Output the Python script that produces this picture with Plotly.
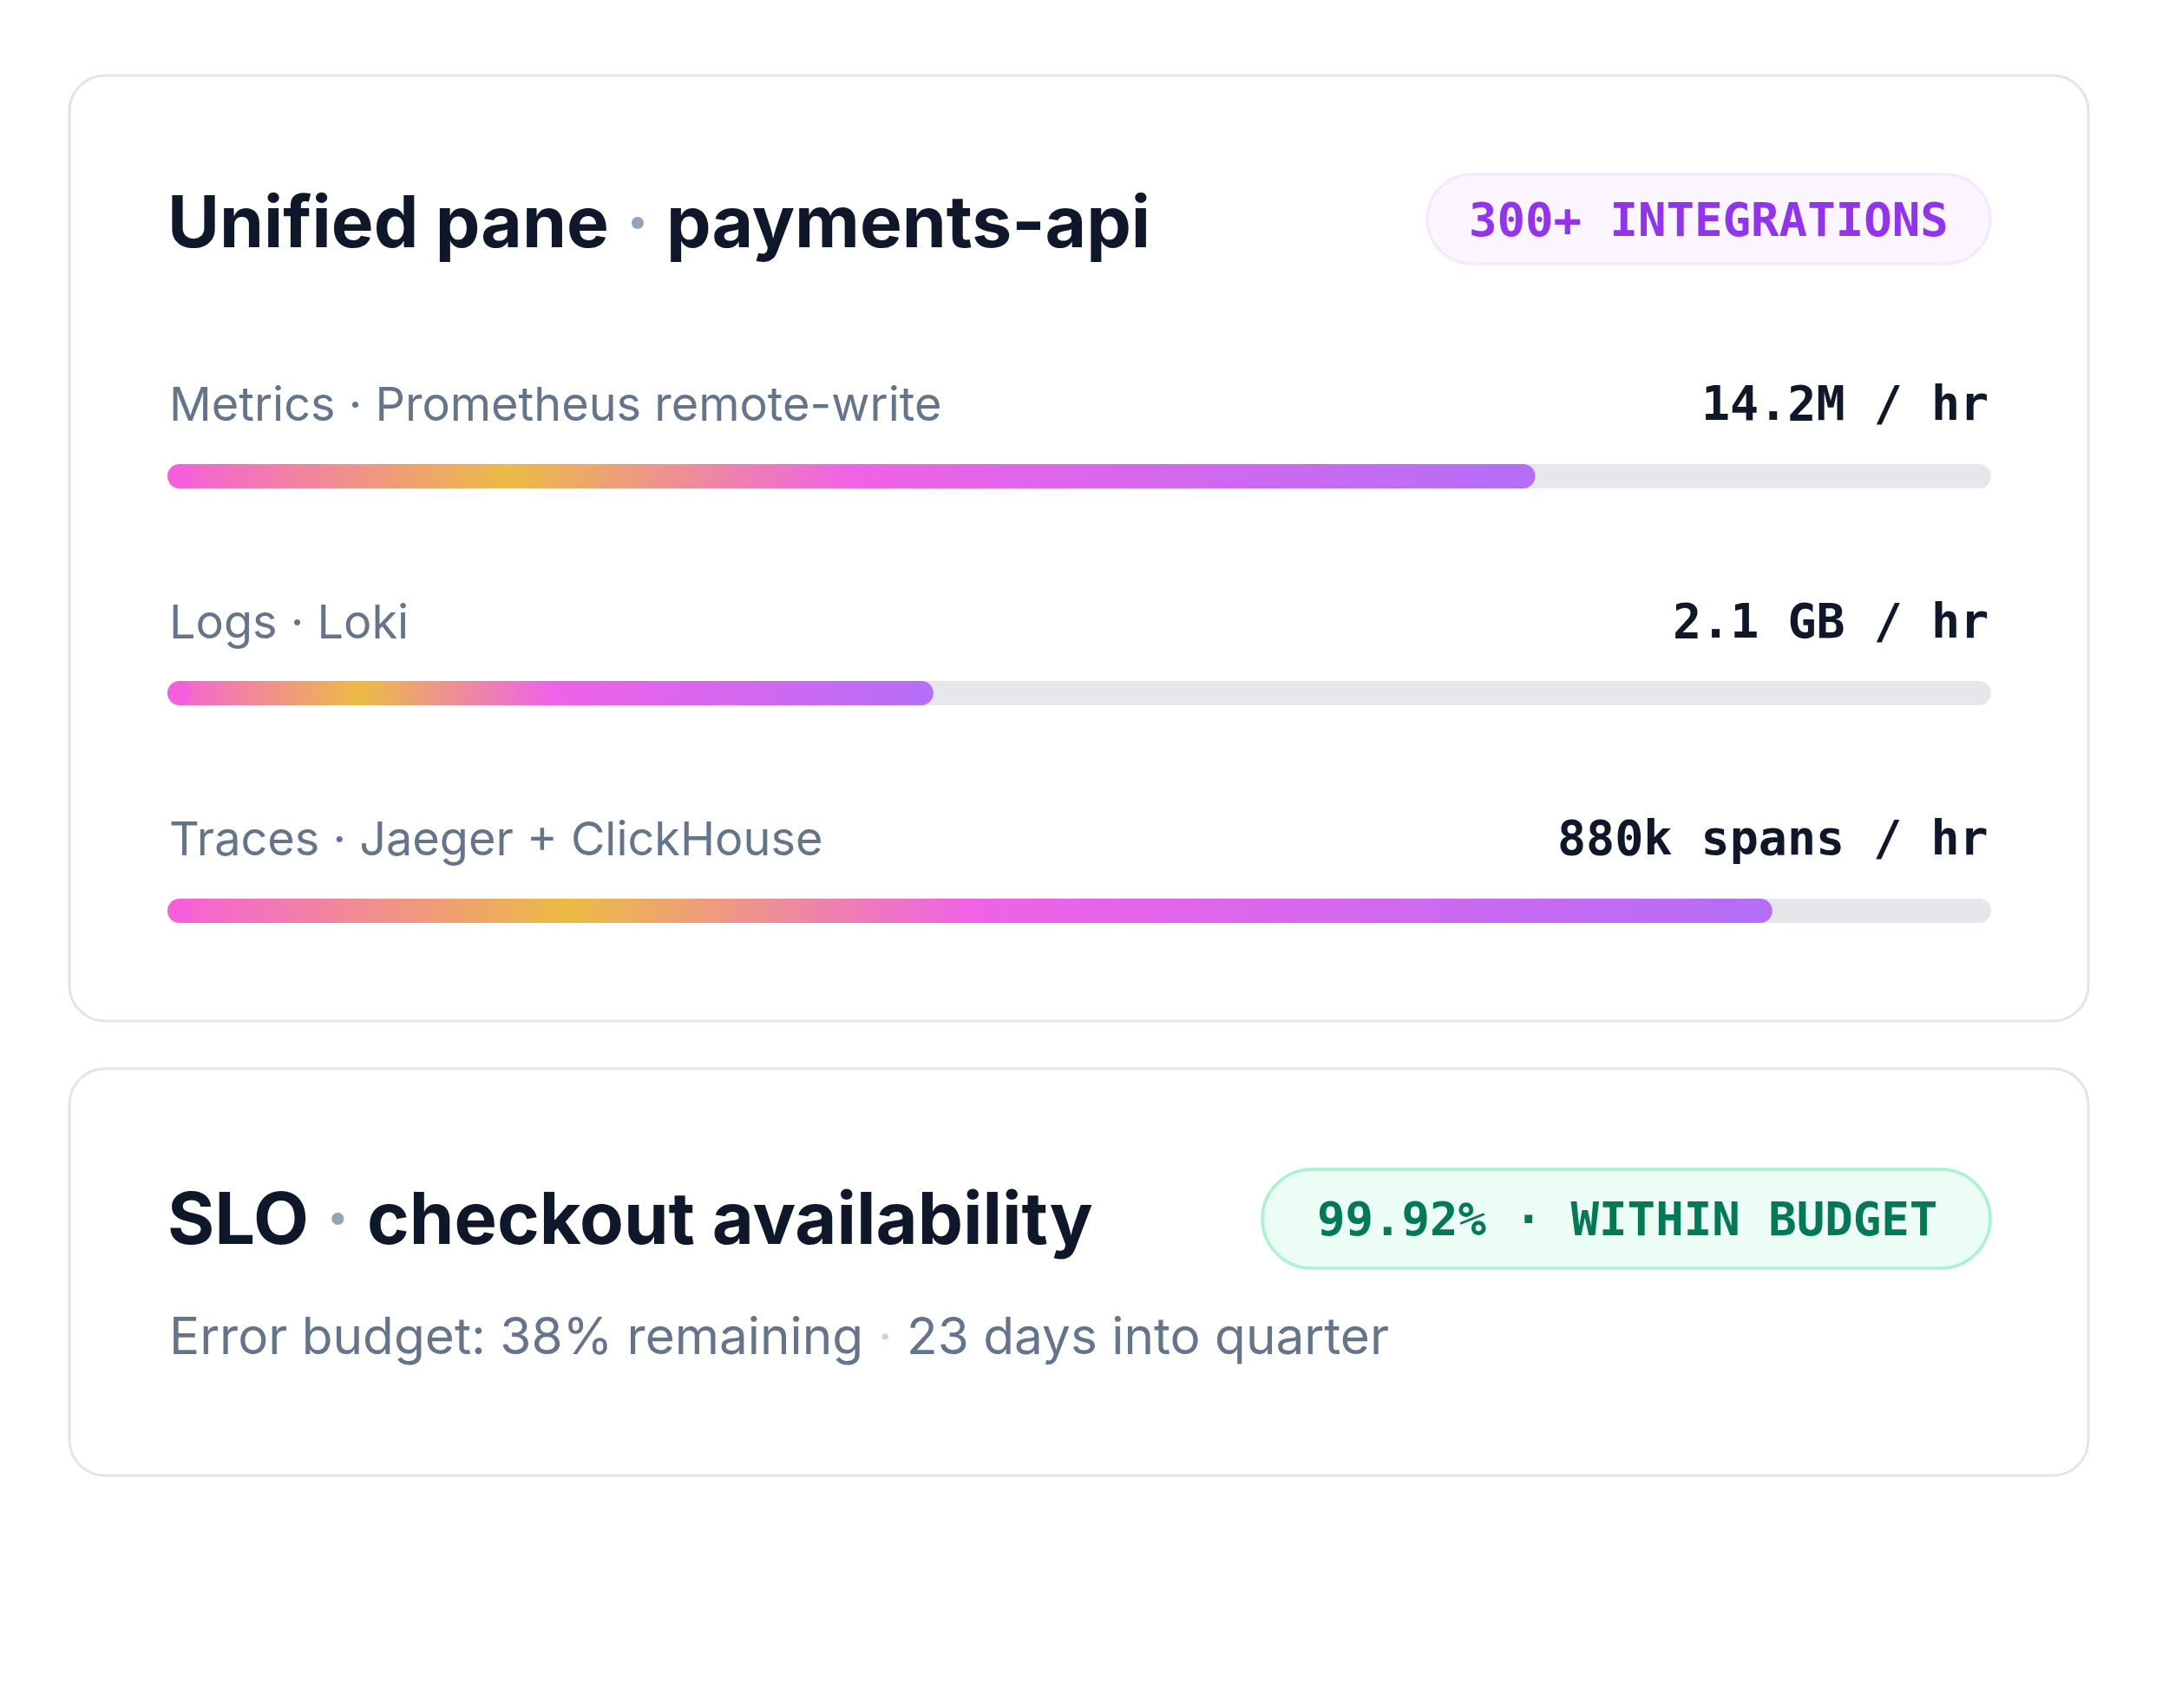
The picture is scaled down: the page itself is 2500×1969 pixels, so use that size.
import plotly.graph_objects as go

# --- data -------------------------------------------------------------
CHANNELS = ["Metrics", "Logs", "Traces"]
SOURCES = ["Prometheus remote-write", "Loki", "Jaeger + ClickHouse"]
RATES = ["14.2M / hr", "2.1 GB / hr", "880k spans / hr"]
FILL_PCT = [75, 42, 88]

PANE_TITLE = ("Unified pane", "payments-api")
PANE_BADGE = "300+ INTEGRATIONS"
SLO_TITLE = ("SLO", "checkout availability")
SLO_VALUE = "99.92%"
SLO_STATUS = "WITHIN BUDGET"
BUDGET_LEFT = "38% remaining"
DAYS_IN = "23 days into quarter"

# --- layout constants (pixels) -----------------------------------------
W, H = 2500, 1969
CARD1 = (80, 2407, 87, 1177)
CARD2 = (80, 2407, 1232, 1701)
CARD_R = 41
LEFT = 195
RIGHT = 2294
TRACK_X0, TRACK_X1 = 193, 2295
BAR_H = 28
LABEL_Y = [465, 716, 966]
BAR_Y = [549, 799, 1050]

GRAD = [[0, "#f65fdc"], [0.25, "#ecbb45"], [0.5, "#f062e6"], [1, "#b56ef8"]]
TRACK = "#e5e7eb"
BORDER = "#e4e4e7"
INK = "#0f172a"
MUTED = "#64748b"

SANS = "Inter"
MONO = "DejaVu Sans Mono"


def rounded(x0, x1, y0, y1, r):
    k = r * 0.4477  # distance from corner to bezier control point
    return (f"M {x0+r},{y0} L {x1-r},{y0} C {x1-k},{y0} {x1},{y0+k} {x1},{y0+r} "
            f"L {x1},{y1-r} C {x1},{y1-k} {x1-k},{y1} {x1-r},{y1} "
            f"L {x0+r},{y1} C {x0+k},{y1} {x0},{y1-k} {x0},{y1-r} "
            f"L {x0},{y0+r} C {x0},{y0+k} {x0+k},{y0} {x0+r},{y0} Z")


fig = go.Figure()

# empty trace on the pixel subplot (x/y) that carries cards, pills and text
fig.add_trace(go.Scatter(x=[], y=[], xaxis="x", yaxis="y", showlegend=False))

# cap radius expressed in bar-axis units (0..100 across the track)
r_u = (BAR_H / 2) / (TRACK_X1 - TRACK_X0) * 100

for i, pct in enumerate(FILL_PCT):
    yc = BAR_Y[i]
    top, bot = yc - BAR_H / 2, yc + BAR_H / 2
    # grey track
    fig.add_trace(go.Scatter(
        x=[r_u, 100 - r_u, 100 - r_u, r_u], y=[top, top, bot, bot],
        xaxis="x2", yaxis="y",
        fill="toself", fillcolor=TRACK, mode="lines", line=dict(width=0),
        hoverinfo="skip", showlegend=False))
    fig.add_trace(go.Scatter(
        x=[r_u, 100 - r_u], y=[yc, yc], mode="markers", xaxis="x2", yaxis="y",
        marker=dict(size=BAR_H, color=TRACK, line=dict(width=0)),
        hoverinfo="skip", showlegend=False))
    # gradient fill
    fig.add_trace(go.Scatter(
        x=[r_u, pct - r_u, pct - r_u, r_u], y=[top, top, bot, bot],
        xaxis="x2", yaxis="y",
        fill="toself", mode="lines", line=dict(width=0),
        fillgradient=dict(type="horizontal", colorscale=GRAD, start=0, stop=pct),
        hoverinfo="skip", showlegend=False))
    fig.add_trace(go.Scatter(
        x=[r_u, pct - r_u], y=[yc, yc], mode="markers", xaxis="x2", yaxis="y",
        marker=dict(size=BAR_H, color=[GRAD[0][1], GRAD[-1][1]], line=dict(width=0)),
        hoverinfo="skip", showlegend=False))

shapes = [
    dict(type="path", path=rounded(*CARD1, CARD_R), xref="x", yref="y",
         fillcolor="white", line=dict(color=BORDER, width=3), layer="below"),
    dict(type="path", path=rounded(*CARD2, CARD_R), xref="x", yref="y",
         fillcolor="white", line=dict(color=BORDER, width=3), layer="below"),
    dict(type="path", path=rounded(1645, 2294, 201, 304, 51.5), xref="x", yref="y",
         fillcolor="#faf5ff", line=dict(color="#f3e8ff", width=3), layer="below"),
    dict(type="path", path=rounded(1455, 2294, 1348, 1462, 57), xref="x", yref="y",
         fillcolor="#ecfdf5", line=dict(color="#a7f3d0", width=3.5), layer="below"),
]

ann = []


def text(x, y, s, size, color, family, weight=400, anchor="left"):
    ann.append(dict(x=x, y=y, xref="x", yref="y", text=s, showarrow=False,
                    xanchor=anchor, yanchor="middle",
                    font=dict(size=size, color=color, family=family, weight=weight)))


dot = "<span style='color:#94a3b8'>·</span>"
text(LEFT - 4, 255, f"{PANE_TITLE[0]} {dot} {PANE_TITLE[1]}", 82, INK, SANS, 700)
text(1969, 253, PANE_BADGE, 54, "#9333ea", MONO, 700, "center")

for i in range(len(CHANNELS)):
    text(LEFT - 2, LABEL_Y[i], f"{CHANNELS[i]} · {SOURCES[i]}", 54, MUTED, SANS)
    text(RIGHT, LABEL_Y[i], RATES[i], 55, INK, MONO, 700, "right")

text(LEFT - 4, 1404, f"{SLO_TITLE[0]} {dot} {SLO_TITLE[1]}", 83, INK, SANS, 700)
text(1875, 1405, f"{SLO_VALUE} · {SLO_STATUS}", 54, "#047857", MONO, 700, "center")
sub_dot = "<span style='color:#cbd5e1'>·</span>"
text(LEFT - 2, 1539, f"Error budget: {BUDGET_LEFT} {sub_dot} {DAYS_IN}", 58.5, MUTED, SANS)

fig.update_layout(
    width=W, height=H,
    margin=dict(l=0, r=0, t=0, b=0),
    paper_bgcolor="white", plot_bgcolor="rgba(0,0,0,0)",
    xaxis=dict(domain=[0, 1], range=[0, W], visible=False, fixedrange=True),
    xaxis2=dict(domain=[TRACK_X0 / W, TRACK_X1 / W], range=[0, 100], anchor="y",
                visible=False, fixedrange=True),
    yaxis=dict(domain=[0, 1], range=[H, 0], visible=False, fixedrange=True),
    shapes=shapes,
    annotations=ann,
    showlegend=False,
)

fig.write_html("out.html", config={"displayModeBar": False},
               post_script="document.body.style.margin='0';document.body.style.overflow='hidden';")
